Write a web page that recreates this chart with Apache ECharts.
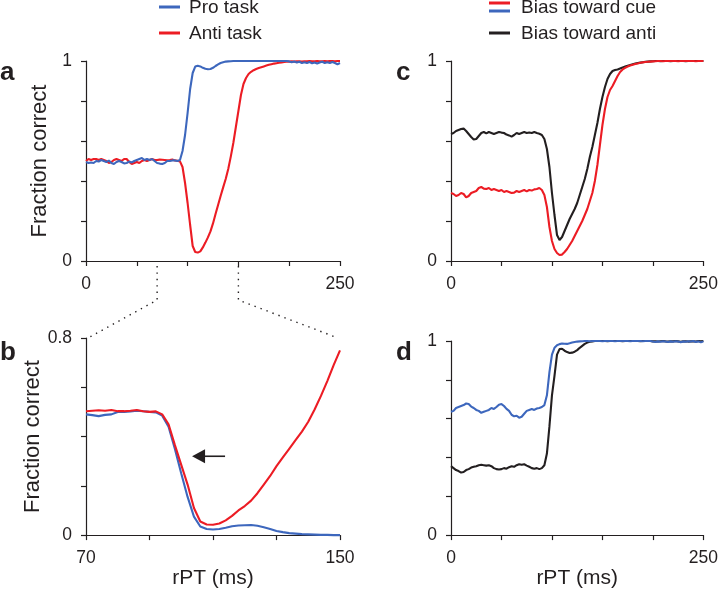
<!DOCTYPE html>
<html>
<head>
<meta charset="utf-8">
<script src="https://cdn.jsdelivr.net/npm/echarts@6/dist/echarts.min.js"></script>
<style>
  html, body { margin: 0; padding: 0; background: #ffffff; }
  #chart { width: 721px; height: 590px; }
</style>
</head>
<body>
<div id="chart"></div>
<script>
// ---------------- data ----------------
// time grid (ms) for panels a, c, d
const T = [0,2.5,5,7.5,10,12.5,15,17.5,20,22.5,25,27.5,30,32.5,35,37.5,40,42.5,45,47.5,
  50,52.5,55,57.5,60,62.5,65,67.5,70,72.5,75,77.5,80,82.5,85,87.5,90,92.5,95,97.5,
  100,102.5,105,107.5,110,112.5,115,117.5,120,122.5,125,127.5,130,132.5,135,137.5,140,142.5,145,147.5,
  150,152.5,155,157.5,160,162.5,165,167.5,170,172.5,175,177.5,180,182.5,185,187.5,190,192.5,195,197.5,
  200,202.5,205,207.5,210,212.5,215,217.5,220,222.5,225,227.5,230,232.5,235,237.5,240,242.5,245,247.5,250];

// panel a: Pro task (blue)
const A_PRO = [0.495,0.49,0.493,0.49,0.5,0.497,0.505,0.5,0.495,0.502,
  0.49,0.485,0.495,0.5,0.495,0.488,0.49,0.497,0.493,0.5,
  0.505,0.51,0.515,0.505,0.51,0.505,0.51,0.5,0.49,0.487,
  0.485,0.49,0.5,0.5,0.503,0.503,0.5,0.505,0.55,0.63,
  0.74,0.86,0.94,0.972,0.976,0.973,0.966,0.961,0.959,0.96,
  0.966,0.975,0.983,0.99,0.994,0.997,0.998,0.999,1,1,
  1,1,1,1,1,1,1,1,1,1,
  1,1,1,1,1,1,1,1,1,1,
  0.998,0.994,0.997,0.992,0.996,0.99,0.994,0.99,0.995,0.989,
  0.993,0.988,0.993,0.996,0.99,0.994,0.99,0.995,0.99,0.984,0.99];

// panel a: Anti task (red)
const A_ANTI = [0.5,0.51,0.505,0.51,0.51,0.505,0.51,0.505,0.5,0.49,
  0.495,0.505,0.51,0.505,0.5,0.51,0.51,0.495,0.485,0.49,
  0.495,0.49,0.5,0.505,0.5,0.505,0.51,0.505,0.505,0.507,
  0.506,0.505,0.504,0.505,0.507,0.503,0.501,0.498,0.47,0.39,
  0.29,0.18,0.075,0.045,0.042,0.048,0.068,0.092,0.118,0.148,
  0.188,0.235,0.28,0.325,0.368,0.41,0.46,0.522,0.59,0.67,
  0.75,0.83,0.885,0.915,0.935,0.946,0.954,0.96,0.965,0.969,
  0.973,0.977,0.981,0.984,0.987,0.989,0.991,0.993,0.995,0.996,
  0.997,0.998,0.997,0.999,0.998,0.997,0.999,0.998,1,0.998,
  0.999,1,0.998,0.999,1,0.999,1,1,0.999,1,1];

// panel b (zoom 70-150 ms)
const TB = [70,72,74,76,78,80,82,84,86,88,90,92,94,96,98,100,102,104,106,108,110,
  112,114,116,118,120,122,124,126,128,130,132,134,136,138,140,142,144,146,148,150];
const B_PRO = [0.49,0.487,0.483,0.488,0.49,0.5,0.5,0.502,0.505,0.503,0.5,0.498,
  0.485,0.44,0.35,0.25,0.155,0.075,0.035,0.025,0.023,0.025,0.03,0.036,0.039,0.04,
  0.041,0.038,0.032,0.025,0.017,0.012,0.008,0.006,0.004,0.003,0.002,0.001,0.001,0,0];
const B_ANTI = [0.503,0.505,0.507,0.505,0.508,0.503,0.503,0.505,0.508,0.503,0.5,0.502,
  0.49,0.45,0.365,0.285,0.205,0.11,0.055,0.043,0.042,0.047,0.06,0.078,0.1,0.118,
  0.14,0.17,0.205,0.24,0.28,0.315,0.35,0.385,0.42,0.46,0.51,0.565,0.625,0.69,0.75];

// panel c
const C_ANTI = [0.635,0.64,0.65,0.655,0.66,0.662,0.65,0.635,0.62,0.608,
  0.61,0.625,0.64,0.645,0.638,0.645,0.64,0.635,0.64,0.645,
  0.642,0.64,0.632,0.628,0.622,0.63,0.64,0.635,0.64,0.645,
  0.64,0.643,0.64,0.645,0.64,0.636,0.63,0.61,0.56,0.47,
  0.34,0.23,0.13,0.105,0.12,0.15,0.18,0.21,0.235,0.26,
  0.29,0.33,0.37,0.41,0.46,0.52,0.57,0.63,0.69,0.76,
  0.82,0.87,0.91,0.935,0.95,0.955,0.958,0.963,0.968,0.972,
  0.976,0.98,0.984,0.987,0.99,0.992,0.994,0.996,0.997,0.998,
  0.999,1,1,0.999,1,1,1,0.999,1,1,
  1,1,1,0.999,1,1,1,1,1,1,1];
const C_CUE = [0.34,0.335,0.325,0.33,0.34,0.335,0.318,0.325,0.34,0.345,
  0.35,0.365,0.37,0.362,0.36,0.365,0.355,0.36,0.355,0.35,
  0.355,0.345,0.35,0.345,0.34,0.342,0.35,0.345,0.35,0.355,
  0.348,0.355,0.352,0.358,0.36,0.365,0.355,0.33,0.27,0.17,
  0.1,0.06,0.04,0.03,0.032,0.045,0.06,0.08,0.1,0.125,
  0.15,0.175,0.2,0.23,0.26,0.3,0.34,0.4,0.48,0.58,
  0.68,0.76,0.82,0.855,0.875,0.9,0.925,0.945,0.958,0.966,
  0.972,0.977,0.981,0.985,0.988,0.991,0.993,0.995,0.996,0.997,
  0.998,0.999,1,1,0.999,1,1,1,1,1,
  0.999,1,1,1,1,1,1,0.999,1,1,1];

// panel d
const D_CUE = [0.635,0.64,0.655,0.66,0.665,0.67,0.678,0.675,0.662,0.655,
  0.645,0.64,0.63,0.635,0.64,0.645,0.655,0.65,0.66,0.672,
  0.675,0.665,0.65,0.64,0.62,0.612,0.615,0.605,0.61,0.625,
  0.64,0.645,0.65,0.645,0.652,0.655,0.66,0.67,0.72,0.84,
  0.93,0.965,0.978,0.984,0.987,0.986,0.985,0.988,0.992,0.995,
  0.997,0.998,0.999,1,1,0.999,1,1,1,1,
  0.999,1,1,1,1,0.999,1,1,1,1,
  1,0.999,1,1,1,1,0.999,1,1,1,
  0.997,0.995,0.998,0.996,0.999,0.997,0.995,0.998,0.996,0.999,
  0.997,0.994,0.998,0.996,0.999,0.997,1,0.995,0.998,0.993,0.998];
const D_ANTI = [0.355,0.345,0.335,0.33,0.322,0.325,0.335,0.34,0.348,0.352,
  0.355,0.36,0.362,0.36,0.358,0.36,0.355,0.345,0.34,0.338,
  0.34,0.345,0.342,0.35,0.355,0.352,0.36,0.365,0.362,0.365,
  0.358,0.352,0.345,0.342,0.345,0.34,0.345,0.36,0.42,0.56,
  0.72,0.82,0.93,0.958,0.96,0.95,0.943,0.938,0.94,0.945,
  0.953,0.965,0.975,0.985,0.992,0.996,0.998,1,1,1,
  1,1,0.999,1,1,1,1,1,0.999,1,
  1,1,1,1,1,0.999,1,1,1,1,
  0.998,0.999,0.997,0.999,1,0.998,0.997,0.999,0.998,1,
  0.998,0.996,0.998,0.999,0.997,0.998,0.999,0.997,1,0.998,1];

// axis ranges and labels
const X_FULL = { min: 0, max: 250, interval: 50 };
const X_ZOOM = { min: 70, max: 150, interval: 20 };
const Y_FULL = { min: 0, max: 1, interval: 0.2 };
const Y_ZOOM = { min: 0, max: 0.8, interval: 0.2 };
const Y_TITLE = 'Fraction correct';
const X_TITLE = 'rPT (ms)';
const PANEL_LETTERS = ['a', 'b', 'c', 'd'];
const LEGEND_LEFT = ['Pro task', 'Anti task'];
const LEGEND_RIGHT = ['Bias toward cue', 'Bias toward anti'];
const ZOOM_WINDOW = [70, 150];
const ARROW = { tail: [113.8, 0.32], tip: [103.4, 0.32] };

// ---------------- style ----------------
const FONT = '"Liberation Sans", Arial, Helvetica, sans-serif';
const INK = '#231f20';
const BLUE = '#3d67bd';
const RED = '#ec1c24';
const BLACK = '#231f20';

const pairs = (xs, ys) => xs.map((x, i) => [x, ys[i]]);
const endsOnly = (r) => (v) => (Math.abs(v - r.min) < 1e-9 || Math.abs(v - r.max) < 1e-9) ? String(+v.toFixed(2)) : '';

function xAxis(gi, r, name) {
  return {
    type: 'value', gridIndex: gi, min: r.min, max: r.max, interval: r.interval,
    axisLine: { show: true, onZero: false, lineStyle: { color: INK, width: 1.2 } },
    axisTick: { show: true, length: 5, lineStyle: { color: INK, width: 1.2 } },
    splitLine: { show: false },
    axisLabel: { formatter: endsOnly(r), color: INK, fontFamily: FONT, fontSize: 17.5, margin: 14,
      showMinLabel: true, showMaxLabel: true },
    name: name || '', nameLocation: 'middle', nameGap: 28,
    nameTextStyle: { color: INK, fontFamily: FONT, fontSize: 21 }
  };
}
function yAxis(gi, r, name) {
  return {
    type: 'value', gridIndex: gi, min: r.min, max: r.max, interval: r.interval,
    axisLine: { show: true, onZero: false, lineStyle: { color: INK, width: 1.2 } },
    axisTick: { show: true, length: 5, lineStyle: { color: INK, width: 1.2 } },
    splitLine: { show: false },
    axisLabel: { formatter: endsOnly(r), color: INK, fontFamily: FONT, fontSize: 17.5, margin: 14,
      showMinLabel: true, showMaxLabel: true },
    name: name || '', nameLocation: 'middle', nameGap: 35,
    nameTextStyle: { color: INK, fontFamily: FONT, fontSize: 22 }
  };
}
function line(name, gi, xs, ys, color, z) {
  return {
    type: 'line', name: name, xAxisIndex: gi, yAxisIndex: gi,
    data: pairs(xs, ys), symbol: 'none', showSymbol: false,
    lineStyle: { color: color, width: 2.1 }, itemStyle: { color: color },
    z: z, silent: true, clip: false
  };
}

const chart = echarts.init(document.getElementById('chart'), null, { renderer: 'canvas' });
const option = {
  animation: false,
  backgroundColor: '#ffffff',
  grid: [
    { left: 86, top: 61, width: 254, height: 200 },
    { left: 86, top: 338, width: 254, height: 203 },
    { left: 451, top: 61, width: 254, height: 200 },
    { left: 451, top: 341, width: 254, height: 200 }
  ],
  xAxis: [xAxis(0, X_FULL), xAxis(1, X_ZOOM, X_TITLE), xAxis(2, X_FULL), xAxis(3, X_FULL, X_TITLE)],
  yAxis: [yAxis(0, Y_FULL, Y_TITLE), yAxis(1, Y_ZOOM, Y_TITLE), yAxis(2, Y_FULL), yAxis(3, Y_FULL)],
  series: [
    line('Anti task', 0, T, A_ANTI, RED, 2),
    line('Pro task', 0, T, A_PRO, BLUE, 3),
    line('Pro task (zoom)', 1, TB, B_PRO, BLUE, 2),
    line('Anti task (zoom)', 1, TB, B_ANTI, RED, 3),
    line('Bias toward anti', 2, T, C_ANTI, BLACK, 2),
    line('Bias toward cue', 2, T, C_CUE, RED, 3),
    line('Bias toward anti (pro)', 3, T, D_ANTI, BLACK, 2),
    line('Bias toward cue (pro)', 3, T, D_CUE, BLUE, 3)
  ]
};
chart.setOption(option);

// ---------------- annotations ----------------
const px = (gi, pt) => chart.convertToPixel({ gridIndex: gi }, pt);
const g = [];
// panel letters
const letterPos = [[0, 73], [0, 353], [396, 73], [396, 353]];
PANEL_LETTERS.forEach((L, i) => g.push({
  type: 'text', x: letterPos[i][0], y: letterPos[i][1],
  style: { text: L, font: 'bold 26px ' + FONT, fill: INK, verticalAlign: 'middle', align: 'left' }
}));
// legends
function legendLine(x1, x2, y, color) {
  g.push({ type: 'line', shape: { x1: x1, y1: y, x2: x2, y2: y }, style: { stroke: color, lineWidth: 3 } });
}
function legendText(x, y, text) {
  g.push({ type: 'text', x: x, y: y, style: { text: text, font: '19px ' + FONT, fill: INK, verticalAlign: 'middle', align: 'left' } });
}
legendLine(159, 180, 7, BLUE); legendText(189, 8, LEGEND_LEFT[0]);
legendLine(159, 180, 33, RED); legendText(189, 34, LEGEND_LEFT[1]);
legendLine(489, 510, 3, RED); legendLine(489, 510, 11, BLUE); legendText(521, 8, LEGEND_RIGHT[0]);
legendLine(489, 510, 33, BLACK); legendText(521, 34, LEGEND_RIGHT[1]);

// dotted zoom connectors
const aL = px(0, [ZOOM_WINDOW[0], 0]), aR = px(0, [ZOOM_WINDOW[1], 0]);
const bL = px(1, [ZOOM_WINDOW[0], Y_ZOOM.max]), bR = px(1, [ZOOM_WINDOW[1], Y_ZOOM.max]);
const dot = { stroke: INK, lineWidth: 1.4, lineDash: [1.4, 5], fill: null };
g.push({ type: 'polyline', shape: { points: [[aL[0], aL[1] + 5], [aL[0], aL[1] + 39], [bL[0] + 2, bL[1]]] }, style: dot });
g.push({ type: 'polyline', shape: { points: [[aR[0], aR[1] + 5], [aR[0], aR[1] + 39], [bR[0] - 2, bR[1]]] }, style: dot });

// arrow in panel b
const tail = px(1, ARROW.tail), tip = px(1, ARROW.tip);
g.push({ type: 'line', shape: { x1: tail[0], y1: tail[1], x2: tip[0] + 10, y2: tip[1] }, style: { stroke: INK, lineWidth: 1.6 } });
g.push({ type: 'polygon', shape: { points: [[tip[0], tip[1]], [tip[0] + 13, tip[1] - 7], [tip[0] + 13, tip[1] + 7]] }, style: { fill: INK } });

chart.setOption({ graphic: g });
</script>
</body>
</html>
